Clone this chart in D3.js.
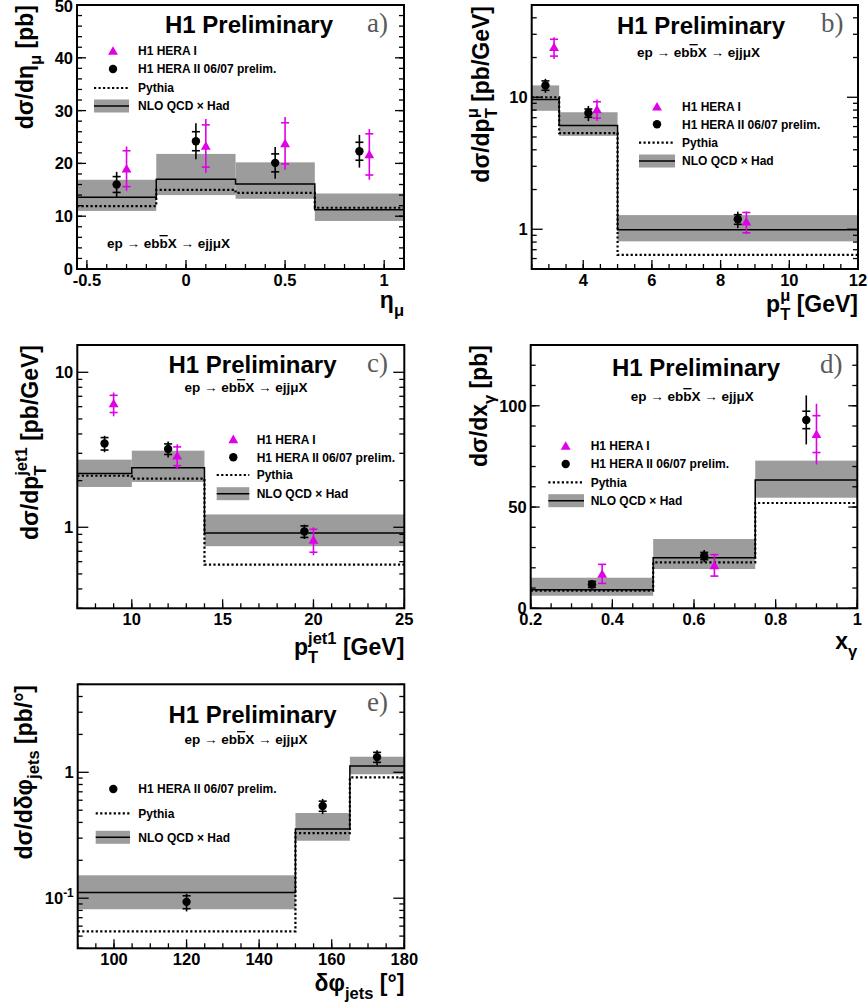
<!DOCTYPE html>
<html><head><meta charset="utf-8">
<script src="https://cdn.jsdelivr.net/npm/d3@7"></script>
<style>
body{margin:0;background:#fff}
svg{display:block}
text{font-family:"Liberation Sans",Arial,sans-serif;font-weight:bold;fill:#000}
</style>
</head><body>
<svg id="chart" width="868" height="1006"></svg>
<script>
// ================= DATA =================
// Panel a) dσ/dη_μ
const aEdges   = [-0.55, -0.15, 0.25, 0.65, 1.1];
const aNlo     = [13.6, 17.0, 16.1, 11.2];
const aNloUp   = [16.9, 21.8, 20.2, 14.3];
const aNloDn   = [11.0, 14.0, 13.3, 9.1];
const aPythia  = [11.9, 15.0, 14.4, 11.6];
const aH2x     = [-0.35, 0.05, 0.45, 0.875];
const aH2y     = [16.0, 24.2, 20.1, 22.3];
const aH2stat  = [1.5, 1.8, 1.7, 1.7];
const aH2tot   = [2.4, 3.4, 3.0, 3.1];
const aH1x     = [-0.3, 0.1, 0.5, 0.925];
const aH1y     = [19.0, 23.3, 23.8, 21.7];
const aH1stat  = [3.4, 4.0, 3.9, 3.9];
const aH1tot   = [4.2, 5.1, 5.0, 4.8];
const aXTicks  = [-0.5, 0, 0.5, 1];
const aXLabels = ["-0.5", "0", "0.5", "1"];
const aYTicks  = [0, 10, 20, 30, 40, 50];
const aYLabels = ["0", "10", "20", "30", "40", "50"];

// Panel b) dσ/dp_T^μ
const bEdges   = [2.5, 3.3, 5, 12];
const bNlo     = [9.6, 6.1, 0.99];
const bNloUp   = [12.3, 7.7, 1.28];
const bNloDn   = [7.9, 5.1, 0.81];
const bPythia  = [10.0, 5.35, 0.64];
const bH2x     = [2.9, 4.15, 8.5];
const bH2y     = [12.3, 7.6, 1.19];
const bH2stat  = [1.0, 0.55, 0.1];
const bH2tot   = [1.5, 1.0, 0.17];
const bH1x     = [3.15, 4.4, 8.75];
const bH1y     = [24.0, 8.1, 1.14];
const bH1stat  = [3.5, 1.15, 0.2];
const bH1tot   = [4.5, 1.5, 0.22];
const bXTicks  = [4, 6, 8, 10, 12];
const bXLabels = ["4", "6", "8", "10", "12"];
const bYTicks  = [1, 10];
const bYLabels = ["1", "10"];

// Panel c) dσ/dp_T^jet1
const cEdges   = [7, 10, 14, 25];
const cNlo     = [2.22, 2.42, 0.92];
const cNloUp   = [2.73, 3.12, 1.21];
const cNloDn   = [1.82, 1.96, 0.755];
const cPythia  = [2.15, 2.06, 0.574];
const cH2x     = [8.5, 12.0, 19.5];
const cH2y     = [3.47, 3.2, 0.94];
const cH2stat  = [0.32, 0.25, 0.08];
const cH2tot   = [0.42, 0.38, 0.1];
const cH1x     = [9.0, 12.5, 20.0];
const cH1y     = [6.3, 2.9, 0.83];
const cH1stat  = [0.8, 0.4, 0.14];
const cH1tot   = [1.1, 0.53, 0.17];
const cXTicks  = [10, 15, 20, 25];
const cXLabels = ["10", "15", "20", "25"];
const cYTicks  = [1, 10];
const cYLabels = ["1", "10"];

// Panel d) dσ/dx_γ
const dEdges   = [0.2, 0.5, 0.75, 1.0];
const dNlo     = [9.2, 25.0, 63.3];
const dNloUp   = [15.1, 34.2, 72.9];
const dNloDn   = [6.2, 19.4, 54.6];
const dPythia  = [8.7, 22.7, 52.0];
const dH2x     = [0.35, 0.625, 0.875];
const dH2y     = [11.8, 25.8, 93];
const dH2stat  = [1.5, 1.8, 4.3];
const dH2tot   = [2.0, 3.0, 12.1];
const dH1x     = [0.375, 0.65, 0.9];
const dH1y     = [17, 21.2, 86];
const dH1stat  = [4.7, 5.3, 9.1];
const dH1tot   = [4.9, 5.5, 15];
const dXTicks  = [0.2, 0.4, 0.6, 0.8, 1];
const dXLabels = ["0.2", "0.4", "0.6", "0.8", "1"];
const dYTicks  = [0, 50, 100];
const dYLabels = ["0", "50", "100"];

// Panel e) dσ/dδφ_jets
const eEdges   = [90, 150, 165, 180];
const eNlo     = [0.111, 0.354, 1.12];
const eNloUp   = [0.152, 0.475, 1.33];
const eNloDn   = [0.0817, 0.286, 0.965];
const ePythia  = [0.0546, 0.329, 0.912];
const eH2x     = [120, 157.5, 172.5];
const eH2y     = [0.0935, 0.54, 1.32];
const eH2stat  = [0.011, 0.05, 0.12];
const eH2tot   = [0.015, 0.075, 0.18];
const eXTicks  = [100, 120, 140, 160, 180];
const eXLabels = ["100", "120", "140", "160", "180"];
const eYTicks  = [0.1, 1];
const eYLabels = [[{t:"10"},{sup:"-1"}], "1"];

const legendNames = ["H1 HERA I", "H1 HERA II 06/07 prelim.", "Pythia", "NLO QCD \u00d7 Had"];

// ================= DRAWING =================
const svg = d3.select("#chart");
const MAGENTA = "#e000e6";
const BAND = "#9c9c9c";

function measure(str, fs) {
  const t = svg.append("text").attr("font-size", fs).text(str);
  const w = t.node().getComputedTextLength();
  t.remove();
  return w;
}

// rich text: parts of {t}, {sub}, {sup}, {sup,sub}, {over}
function rich(sel, parts, fs) {
  if (typeof parts === "string") parts = [{t: parts}];
  let cur = 0, pdx = 0;
  const small = fs * 0.72;
  const add = (txt, size, dy, extra) => {
    const ts = sel.append("tspan").attr("font-size", size).attr("dy", dy);
    if (pdx) ts.attr("dx", pdx);
    pdx = 0;
    if (extra) extra(ts);
    ts.text(txt);
    return ts;
  };
  parts.forEach(p => {
    if (p.t !== undefined) {
      add(p.t, fs, -cur); cur = 0;
    } else if (p.over !== undefined) {
      add(p.over, fs, -cur, ts => ts.style("text-decoration", "overline")); cur = 0;
    } else if (p.sup !== undefined && p.sub !== undefined) {
      const up = -fs * 0.48, dn = fs * 0.33;
      add(p.sup, small, up - cur);
      const w1 = measure(p.sup, small), w2 = measure(p.sub, small);
      pdx = -w1;
      add(p.sub, small, dn - up);
      cur = dn;
      pdx = Math.max(0, w1 - w2);
    } else if (p.sup !== undefined) {
      const up = -fs * 0.45;
      add(p.sup, small, up - cur); cur = up;
    } else if (p.sub !== undefined) {
      const dn = fs * 0.33;
      add(p.sub, small, dn - cur); cur = dn;
    }
  });
  return sel;
}

function zipPts(xs, ys, st, tt) { return xs.map((x, i) => ({x, y: ys[i], s: st[i], t: tt[i]})); }

function drawPanel(P, idx) {
  const f = P.frame;
  const x = d3.scaleLinear().domain(P.xDomain).range([f.x0, f.x1]);
  const y = (P.log ? d3.scaleLog() : d3.scaleLinear()).domain(P.yDomain).range([f.y1, f.y0]);
  const g = svg.append("g");
  const clipId = "clip" + idx;
  g.append("clipPath").attr("id", clipId).append("rect")
    .attr("x", f.x0).attr("y", f.y0).attr("width", f.x1 - f.x0).attr("height", f.y1 - f.y0);
  const plot = g.append("g").attr("clip-path", `url(#${clipId})`);

  const bins = P.nlo.map((v, i) => ({x0: P.edges[i], x1: P.edges[i + 1], v, up: P.up[i], dn: P.dn[i], py: P.py[i]}));
  // NLO band
  plot.selectAll("rect.band").data(bins).join("rect").attr("class", "band")
    .attr("x", d => x(d.x0)).attr("width", d => x(d.x1) - x(d.x0))
    .attr("y", d => y(d.up)).attr("height", d => y(d.dn) - y(d.up))
    .attr("fill", BAND);
  const step = d3.line().x(d => x(d[0])).y(d => y(d[1])).curve(d3.curveStepAfter);
  const stepPts = vals => vals.map((v, i) => [P.edges[i], v]).concat([[P.edges[vals.length], vals[vals.length - 1]]]);
  // Pythia dotted
  plot.append("path").attr("d", step(stepPts(P.py))).attr("fill", "none")
    .attr("stroke", "#000").attr("stroke-width", 2.2).attr("stroke-dasharray", "2.2,2.3");
  // NLO line
  plot.append("path").attr("d", step(stepPts(P.nlo))).attr("fill", "none")
    .attr("stroke", "#000").attr("stroke-width", 1.5);

  // data points
  function errs(pts, color) {
    const eg = g.append("g").attr("stroke", color).attr("stroke-width", 1.6);
    eg.selectAll("line.v").data(pts).join("line")
      .attr("x1", d => x(d.x)).attr("x2", d => x(d.x))
      .attr("y1", d => y(d.y + d.t)).attr("y2", d => y(d.y - d.t));
    pts.forEach(d => {
      [d.y + d.s, d.y - d.s].forEach(v => {
        eg.append("line").attr("x1", x(d.x) - 4).attr("x2", x(d.x) + 4)
          .attr("y1", y(v)).attr("y2", y(v));
      });
    });
  }
  if (P.h1) {
    const pts = zipPts(...P.h1);
    errs(pts, MAGENTA);
    g.selectAll("path.tri").data(pts).join("path")
      .attr("transform", d => `translate(${x(d.x)},${y(d.y) + 1})`)
      .attr("d", d3.symbol(d3.symbolTriangle, 42)).attr("fill", MAGENTA);
  }
  const pts2 = zipPts(...P.h2);
  errs(pts2, "#000");
  g.selectAll("circle.pt").data(pts2).join("circle")
    .attr("cx", d => x(d.x)).attr("cy", d => y(d.y)).attr("r", 4.2).attr("fill", "#000");

  // ticks
  const tg = g.append("g").attr("stroke", "#000").attr("stroke-width", 1.3);
  const yMajors = P.yTicks;
  let yMinors;
  if (P.log) {
    yMinors = [];
    const lo = Math.floor(Math.log10(P.yDomain[0])), hi = Math.ceil(Math.log10(P.yDomain[1]));
    for (let e = lo; e <= hi; e++) for (let k = 2; k <= 9; k++) {
      const v = k * Math.pow(10, e);
      if (v >= P.yDomain[0] && v <= P.yDomain[1]) yMinors.push(v);
    }
  } else {
    yMinors = d3.range(P.yDomain[0], P.yDomain[1] + 1e-9, P.yMinor);
  }
  const tickL = P.log ? 11 : 9, minL = 5;
  yMinors.forEach(v => {
    tg.append("line").attr("x1", f.x0).attr("x2", f.x0 + minL).attr("y1", y(v)).attr("y2", y(v));
    tg.append("line").attr("x1", f.x1).attr("x2", f.x1 - minL).attr("y1", y(v)).attr("y2", y(v));
  });
  yMajors.forEach(v => {
    tg.append("line").attr("x1", f.x0).attr("x2", f.x0 + tickL).attr("y1", y(v)).attr("y2", y(v));
    tg.append("line").attr("x1", f.x1).attr("x2", f.x1 - tickL).attr("y1", y(v)).attr("y2", y(v));
  });
  const xMinors = d3.range(P.xMinorStart, P.xDomain[1] + 1e-9, P.xMinor);
  xMinors.forEach(v => {
    if (v < P.xDomain[0] - 1e-9) return;
    tg.append("line").attr("x1", x(v)).attr("x2", x(v)).attr("y1", f.y1).attr("y2", f.y1 - minL);
  });
  P.xTicks.forEach(v => {
    tg.append("line").attr("x1", x(v)).attr("x2", x(v)).attr("y1", f.y1).attr("y2", f.y1 - 9);
  });

  // frame
  g.append("rect").attr("x", f.x0).attr("y", f.y0).attr("width", f.x1 - f.x0).attr("height", f.y1 - f.y0)
    .attr("fill", "none").attr("stroke", "#000").attr("stroke-width", 2);

  // tick labels
  P.yTicks.forEach((v, i) => {
    const t = g.append("text").attr("x", f.x0 - 4).attr("y", Math.max(y(v) + 6, 12)).attr("text-anchor", "end");
    rich(t, P.yLabels[i], 16.5);
  });
  P.xTicks.forEach((v, i) => {
    g.append("text").attr("x", x(v)).attr("y", f.y1 + 16.5).attr("text-anchor", "middle")
      .attr("font-size", 16.5).text(P.xLabels[i]);
  });

  // axis titles
  const yt = g.append("text").attr("text-anchor", "end")
    .attr("transform", `translate(${P.yTitlePos[0]},${P.yTitlePos[1]}) rotate(-90)`);
  rich(yt, P.yTitle, 23);
  const xt = g.append("text").attr("text-anchor", "end").attr("x", f.x1).attr("y", P.xTitleY);
  rich(xt, P.xTitle, 23);

  // H1 Preliminary, panel letter, process
  g.append("text").attr("x", P.titlePos[0]).attr("y", P.titlePos[1]).attr("text-anchor", "middle")
    .attr("font-size", 24).text("H1 Preliminary");
  g.append("text").attr("x", P.letterPos[0]).attr("y", P.letterPos[1])
    .style("font-family", '"Liberation Serif","Times New Roman",serif').style("font-weight", "normal")
    .style("fill", "#5a5a5a").attr("font-size", 27).text(P.letter);
  const pt = g.append("text").attr("x", P.procPos[0]).attr("y", P.procPos[1])
    .attr("text-anchor", P.procAnchor).attr("font-size", 13.5);
  rich(pt, [{t: "ep \u2192 eb"}, {over: "b"}, {t: "X \u2192 ejj\u03bcX"}], 13.5);

  // legend
  const L = P.legend, lg = g.append("g");
  const rows = [];
  if (P.h1) rows.push("h1");
  rows.push("h2", "py", "nlo");
  const names = {h1: legendNames[0], h2: legendNames[1], py: legendNames[2], nlo: legendNames[3]};
  rows.forEach((r, i) => {
    const yy = L.rows[i];
    if (r === "h1") lg.append("path").attr("transform", `translate(${L.mx},${yy + 1})`)
      .attr("d", d3.symbol(d3.symbolTriangle, 42)).attr("fill", MAGENTA);
    if (r === "h2") lg.append("circle").attr("cx", L.mx).attr("cy", yy).attr("r", 4.2).attr("fill", "#000");
    if (r === "py") lg.append("line").attr("x1", L.lx0).attr("x2", L.lx1).attr("y1", yy).attr("y2", yy)
      .attr("stroke", "#000").attr("stroke-width", 2.2).attr("stroke-dasharray", "2.2,2.3");
    if (r === "nlo") {
      lg.append("rect").attr("x", L.lx0).attr("width", L.lx1 - L.lx0).attr("y", yy - 6.5).attr("height", 13).attr("fill", BAND);
      lg.append("line").attr("x1", L.lx0).attr("x2", L.lx1).attr("y1", yy).attr("y2", yy)
        .attr("stroke", "#000").attr("stroke-width", 1.5);
    }
    lg.append("text").attr("x", L.tx).attr("y", yy + 4.3).attr("font-size", 12).text(names[r]);
  });
}

const panels = [
  { frame: {x0: 77, y0: 5, x1: 404, y1: 269}, xDomain: [-0.55, 1.1], yDomain: [0, 50], log: false,
    edges: aEdges, nlo: aNlo, up: aNloUp, dn: aNloDn, py: aPythia,
    h2: [aH2x, aH2y, aH2stat, aH2tot], h1: [aH1x, aH1y, aH1stat, aH1tot],
    xTicks: aXTicks, xLabels: aXLabels, xMinor: 0.1, xMinorStart: -0.5,
    yTicks: aYTicks, yLabels: aYLabels, yMinor: 2,
    yTitle: [{t: "d\u03c3/d\u03b7"}, {sub: "\u03bc"}, {t: " [pb]"}], yTitlePos: [33, 5],
    xTitle: [{t: "\u03b7"}, {sub: "\u03bc"}], xTitleY: 308,
    titlePos: [249, 33], letter: "a)", letterPos: [367, 32],
    procPos: [107, 248], procAnchor: "start",
    legend: {mx: 113, lx0: 94, lx1: 129, tx: 138, rows: [51, 69, 88, 106]} },
  { frame: {x0: 531.7, y0: 5, x1: 858, y1: 269}, xDomain: [2.5, 12], yDomain: [0.5, 50], log: true,
    edges: bEdges, nlo: bNlo, up: bNloUp, dn: bNloDn, py: bPythia,
    h2: [bH2x, bH2y, bH2stat, bH2tot], h1: [bH1x, bH1y, bH1stat, bH1tot],
    xTicks: bXTicks, xLabels: bXLabels, xMinor: 0.5, xMinorStart: 2.5,
    yTicks: bYTicks, yLabels: bYLabels,
    yTitle: [{t: "d\u03c3/dp"}, {sup: "\u03bc", sub: "T"}, {t: " [pb/GeV]"}], yTitlePos: [489, 6],
    xTitle: [{t: "p"}, {sup: "\u03bc", sub: "T"}, {t: " [GeV]"}], xTitleY: 312,
    titlePos: [701, 34], letter: "b)", letterPos: [821, 32],
    procPos: [698.5, 57], procAnchor: "middle",
    legend: {mx: 657, lx0: 639, lx1: 675, tx: 682, rows: [106.7, 124.3, 142.7, 161]} },
  { frame: {x0: 77.3, y0: 345, x1: 404.3, y1: 608.3}, xDomain: [7, 25], yDomain: [0.3, 15], log: true,
    edges: cEdges, nlo: cNlo, up: cNloUp, dn: cNloDn, py: cPythia,
    h2: [cH2x, cH2y, cH2stat, cH2tot], h1: [cH1x, cH1y, cH1stat, cH1tot],
    xTicks: cXTicks, xLabels: cXLabels, xMinor: 1, xMinorStart: 7,
    yTicks: cYTicks, yLabels: cYLabels,
    yTitle: [{t: "d\u03c3/dp"}, {sup: "jet1", sub: "T"}, {t: " [pb/GeV]"}], yTitlePos: [38, 345],
    xTitle: [{t: "p"}, {sup: "jet1", sub: "T"}, {t: " [GeV]"}], xTitleY: 655,
    titlePos: [252.5, 372.5], letter: "c)", letterPos: [367, 372],
    procPos: [246, 392], procAnchor: "middle",
    legend: {mx: 233.3, lx0: 216.7, lx1: 249.3, tx: 256.7, rows: [439.3, 457.3, 475, 493.7]} },
  { frame: {x0: 530.7, y0: 345, x1: 857.3, y1: 608.3}, xDomain: [0.2, 1], yDomain: [0, 130], log: false,
    edges: dEdges, nlo: dNlo, up: dNloUp, dn: dNloDn, py: dPythia,
    h2: [dH2x, dH2y, dH2stat, dH2tot], h1: [dH1x, dH1y, dH1stat, dH1tot],
    xTicks: dXTicks, xLabels: dXLabels, xMinor: 0.05, xMinorStart: 0.2,
    yTicks: dYTicks, yLabels: dYLabels, yMinor: 10,
    yTitle: [{t: "d\u03c3/dx"}, {sub: "\u03b3"}, {t: " [pb]"}], yTitlePos: [487, 345],
    xTitle: [{t: "x"}, {sub: "\u03b3"}], xTitleY: 649,
    titlePos: [696, 376], letter: "d)", letterPos: [820, 373],
    procPos: [692.3, 401], procAnchor: "middle",
    legend: {mx: 565.7, lx0: 548.3, lx1: 584, tx: 590.7, rows: [446, 464, 482.3, 500.7]} },
  { frame: {x0: 77.7, y0: 684.3, x1: 404.3, y1: 948.3}, xDomain: [90, 180], yDomain: [0.04, 5], log: true,
    edges: eEdges, nlo: eNlo, up: eNloUp, dn: eNloDn, py: ePythia,
    h2: [eH2x, eH2y, eH2stat, eH2tot], h1: null,
    xTicks: eXTicks, xLabels: eXLabels, xMinor: 5, xMinorStart: 90,
    yTicks: eYTicks, yLabels: eYLabels,
    yTitle: [{t: "d\u03c3/d\u03b4\u03c6"}, {sub: "jets"}, {t: " [pb/\u00b0]"}], yTitlePos: [31.5, 685],
    xTitle: [{t: "\u03b4\u03c6"}, {sub: "jets"}, {t: " [\u00b0]"}], xTitleY: 991,
    titlePos: [252.5, 723], letter: "e)", letterPos: [367, 711],
    procPos: [246, 744], procAnchor: "middle",
    legend: {mx: 113.3, lx0: 95.7, lx1: 130, tx: 138.3, rows: [789, 813.3, 837.3]} }
];

panels.forEach((P, i) => drawPanel(P, i));
</script>
</body></html>
